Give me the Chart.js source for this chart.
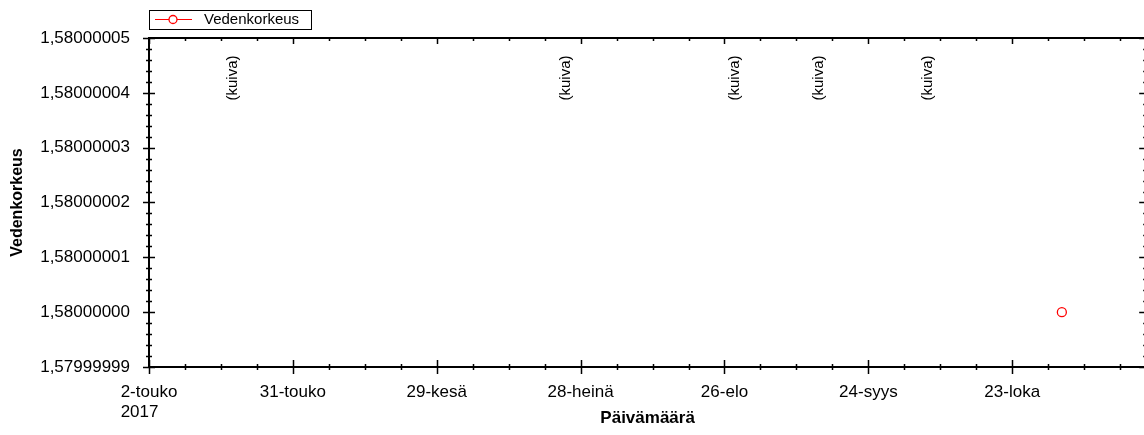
<!DOCTYPE html>
<html lang="fi">
<head>
<meta charset="utf-8">
<title>Vedenkorkeus</title>
<script src="https://cdn.jsdelivr.net/npm/chart.js@4/dist/chart.umd.min.js"></script>
<style>
  html, body { margin: 0; padding: 0; background: #fff; overflow: hidden; }
  #wrap { position: absolute; left: 0; top: 0; width: 1152px; height: 435px; }
</style>
</head>
<body>
<div id="wrap"><canvas id="levelChart"></canvas></div>
<script>
// Axis range and tick labels
const startDate = '2017-05-02';
const endDate = '2017-11-19';
const xTickDates = ['2017-05-02', '2017-05-31', '2017-06-29', '2017-07-28', '2017-08-26', '2017-09-24', '2017-10-23'];
const xTickLabels = [['2-touko', '2017    '], '31-touko', '29-kesä', '28-heinä', '26-elo', '24-syys', '23-loka'];
const yTickValues = [1.57999999, 1.58, 1.58000001, 1.58000002, 1.58000003, 1.58000004, 1.58000005];
const yTickLabels = ['1,57999999', '1,58000000', '1,58000001', '1,58000002', '1,58000003', '1,58000004', '1,58000005'];

// Measurements
const levelDates = ['2017-11-02'];
const levelValues = [1.58];
const dryDates = ['2017-05-19', '2017-07-25', '2017-08-28', '2017-09-14', '2017-10-06'];
const dryLabel = '(kuiva)';

const FONT = "'Liberation Sans', Arial, sans-serif";
const X_SUB = 4; // minor steps between labelled x ticks
const Y_SUB = 5; // minor steps between labelled y ticks

// days since start date
function dayOf(date) {
    return (Date.parse(date) - Date.parse(startDate)) / 86400000;
}

document.addEventListener('DOMContentLoaded', () => {
    const ctx = document.getElementById('levelChart').getContext('2d');

    // Frame, tick marks, legend box and dry notes
    const decorations = {
        id: 'decorations',
        afterDatasetsDraw(chart) {
            const c = chart.ctx;
            const area = chart.chartArea;
            const xs = chart.scales.x;
            const ys = chart.scales.y;

            c.save();
            c.strokeStyle = '#000';
            c.lineWidth = 2;
            c.strokeRect(area.left, area.top, area.right - area.left, area.bottom - area.top);

            c.lineWidth = 1.5;
            c.beginPath();
            xs.ticks.forEach((t, i) => {
                const px = Math.round(xs.getPixelForValue(t.value)) + 0.5;
                const major = i % X_SUB === 0;
                const out = major ? 7 : 3;
                c.moveTo(px, area.bottom - out);
                c.lineTo(px, area.bottom + out);
                c.moveTo(px, area.top);
                c.lineTo(px, area.top + (major ? 6 : 3));
            });
            ys.ticks.forEach((t, i) => {
                const py = Math.round(ys.getPixelForValue(t.value)) + 0.5;
                const major = i % Y_SUB === 0;
                const out = major ? 6 : 3;
                c.moveTo(area.left - out, py);
                c.lineTo(area.left + out, py);
                c.moveTo(area.right, py);
                c.lineTo(area.right - (major ? 7 : 3), py);
            });
            c.stroke();

            // (kuiva) notes
            c.fillStyle = '#000';
            c.font = '15px ' + FONT;
            c.textAlign = 'center';
            c.textBaseline = 'middle';
            dryDates.forEach(d => {
                const px = xs.getPixelForValue(dayOf(d));
                c.save();
                c.translate(px, 78);
                c.rotate(-Math.PI / 2);
                c.fillText(dryLabel, 0, 0);
                c.restore();
            });

            // legend
            const ds = chart.data.datasets[0];
            c.lineWidth = 1;
            c.strokeStyle = '#000';
            c.strokeRect(149.5, 10.5, 162, 19);
            c.strokeStyle = ds.borderColor;
            c.beginPath();
            c.moveTo(155, 19.5);
            c.lineTo(192, 19.5);
            c.stroke();
            c.fillStyle = '#fff';
            c.lineWidth = 1.3;
            c.beginPath();
            c.arc(173, 19.5, 4, 0, Math.PI * 2);
            c.fill();
            c.stroke();
            c.fillStyle = '#000';
            c.textAlign = 'left';
            c.fillText(ds.label, 204, 20);
            c.restore();
        }
    };

    new Chart(ctx, {
        type: 'scatter',
        data: {
            datasets: [{
                label: 'Vedenkorkeus',
                data: levelDates.map((d, i) => ({ x: dayOf(d), y: levelValues[i] })),
                borderColor: '#ff0000',
                backgroundColor: 'rgba(255,255,255,0)',
                borderWidth: 1.3,
                pointRadius: 4.5,
                pointHoverRadius: 4.5,
                clip: false,
            }],
        },
        options: {
            responsive: true,
            maintainAspectRatio: false,
            animation: false,
            layout: { padding: { top: 38, right: 5, left: 0, bottom: 0 } },
            plugins: {
                legend: { display: false },
                tooltip: { enabled: false },
            },
            scales: {
                x: {
                    type: 'linear',
                    min: dayOf(startDate),
                    max: dayOf(endDate),
                    grid: { display: false },
                    border: { display: false },
                    afterBuildTicks: scale => {
                        const majors = xTickDates.map(dayOf);
                        const step = (majors[1] - majors[0]) / X_SUB;
                        const ticks = [];
                        for (let i = 0; majors[0] + i * step <= scale.max + 1e-6; i++) {
                            ticks.push({ value: majors[0] + i * step });
                        }
                        scale.ticks = ticks;
                    },
                    afterFit: scale => { scale.height = 68; },
                    ticks: {
                        autoSkip: false,
                        maxRotation: 0,
                        padding: 8,
                        color: '#000',
                        font: { family: FONT, size: 17, lineHeight: 1.15 },
                        callback: (value, index) => index % X_SUB === 0 ? xTickLabels[index / X_SUB] : '',
                    },
                    title: {
                        display: true,
                        text: 'Päivämäärä',
                        color: '#000',
                        font: { family: FONT, size: 17, weight: 'bold' },
                        padding: { top: 0, bottom: 6 },
                    },
                },
                y: {
                    min: yTickValues[0],
                    max: yTickValues[yTickValues.length - 1],
                    grid: { display: false },
                    border: { display: false },
                    afterBuildTicks: scale => {
                        const step = (yTickValues[1] - yTickValues[0]) / Y_SUB;
                        const ticks = [];
                        for (let i = 0; i <= (yTickValues.length - 1) * Y_SUB; i++) {
                            ticks.push({ value: yTickValues[0] + i * step });
                        }
                        scale.ticks = ticks;
                    },
                    afterFit: scale => { scale.width = 149; },
                    ticks: {
                        autoSkip: false,
                        padding: 11,
                        color: '#000',
                        font: { family: FONT, size: 17 },
                        callback: (value, index) => index % Y_SUB === 0 ? yTickLabels[index / Y_SUB] : '',
                    },
                    title: {
                        display: true,
                        text: 'Vedenkorkeus',
                        color: '#000',
                        font: { family: FONT, size: 16, weight: 'bold' },
                        padding: { top: 8, bottom: 0 },
                    },
                },
            },
        },
        plugins: [decorations],
    });
});
</script>
</body>
</html>
